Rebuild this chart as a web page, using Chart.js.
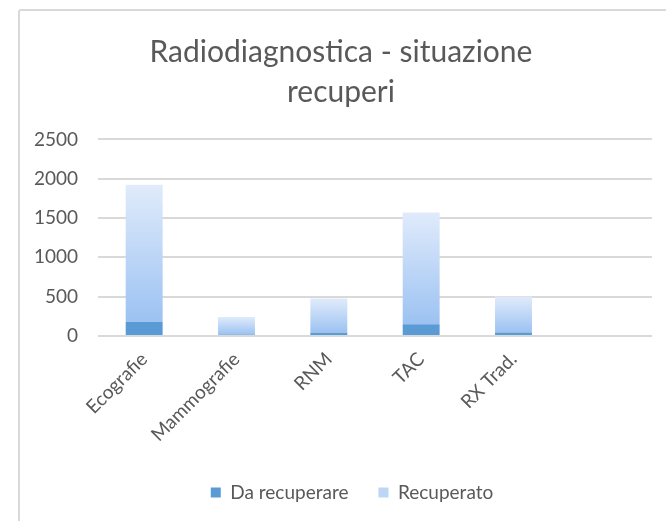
<!DOCTYPE html>
<html>
<head>
<meta charset="utf-8">
<script src="https://cdn.jsdelivr.net/npm/chart.js@4.4.1/dist/chart.umd.min.js"></script>
<style>
  html, body { margin: 0; padding: 0; background: #ffffff; }
  body { width: 666px; height: 521px; position: relative; overflow: hidden; }
  #frame { position: absolute; left: 18px; top: 9px; width: 720px; height: 600px;
           border: 2px solid #d9d9d9; border-radius: 3px; box-sizing: border-box; }
  #wrap { position: absolute; left: 0; top: 0; width: 666px; height: 521px; }
</style>
</head>
<body>
<div id="frame"></div>
<div id="wrap"><canvas id="c" width="666" height="521"></canvas></div>
<script>
const categories = ['Ecografie', 'Mammografie', 'RNM', 'TAC', 'RX Trad.', ''];
const daRecuperare = [180, 20, 42, 149, 45, null];
const recuperato = [1742, 222, 434, 1420, 456, null];
const yTicks = [0, 500, 1000, 1500, 2000, 2500];
const titleLines = ['Radiodiagnostica - situazione', 'recuperi'];

const FONT = 'Lato, "Open Sans", sans-serif';
const TEXT = '#595959';

function recGradient(ctx) {
  const chart = ctx.chart;
  const y = chart.scales && chart.scales.y;
  if (!y || ctx.type !== 'data') return '#bdd6f6';
  const i = ctx.dataIndex;
  if (recuperato[i] == null) return '#bdd6f6';
  const top = y.getPixelForValue((daRecuperare[i] || 0) + recuperato[i]);
  const bot = y.getPixelForValue(daRecuperare[i] || 0);
  if (!isFinite(top) || !isFinite(bot) || top === bot) return '#bdd6f6';
  const g = chart.ctx.createLinearGradient(0, top, 0, bot);
  g.addColorStop(0, '#e0ebfb');
  g.addColorStop(1, '#9cc2f2');
  return g;
}

// shift title and legend horizontally to match the reference centring
const shiftBlocks = {
  id: 'shiftBlocks',
  afterLayout(chart) {
    if (chart.titleBlock) { chart.titleBlock.left += 15; chart.titleBlock.right += 15; }
    if (chart.legend) { chart.legend.left += 26; chart.legend.right += 26; }
  }
};

new Chart(document.getElementById('c'), {
  type: 'bar',
  data: {
    labels: categories,
    datasets: [
      { label: 'Da recuperare', data: daRecuperare, backgroundColor: '#5b9bd5',
        barPercentage: 0.4, categoryPercentage: 1.0 },
      { label: 'Recuperato', data: recuperato, backgroundColor: recGradient,
        barPercentage: 0.4, categoryPercentage: 1.0 }
    ]
  },
  plugins: [shiftBlocks],
  options: {
    responsive: false,
    animation: false,
    layout: { padding: { top: 0, left: 0, right: 14, bottom: 9 } },
    plugins: {
      title: {
        display: true,
        text: titleLines,
        color: TEXT,
        font: { family: FONT, size: 30, weight: 'normal', lineHeight: 1.34 },
        padding: { top: 32, bottom: 27 }
      },
      legend: {
        position: 'bottom',
        labels: {
          color: TEXT,
          font: { family: FONT, size: 19 },
          boxWidth: 10, boxHeight: 10, padding: 30,
          generateLabels(chart) {
            const items = Chart.defaults.plugins.legend.labels.generateLabels(chart);
            items.forEach(it => {
              it.lineWidth = 0;
              it.strokeStyle = 'rgba(0,0,0,0)';
              it.fillStyle = it.datasetIndex === 1 ? '#bdd6f6' : '#5b9bd5';
            });
            return items;
          }
        }
      },
      tooltip: { enabled: false }
    },
    scales: {
      x: {
        stacked: true,
        grid: { display: false },
        border: { display: false },
        ticks: { color: TEXT, font: { family: FONT, size: 19 }, minRotation: 45, maxRotation: 45, autoSkip: false, padding: 4 },
        afterFit(scale) { scale.height = 117; }
      },
      y: {
        stacked: true,
        min: 0, max: 2500,
        afterBuildTicks(scale) { scale.ticks = yTicks.map(v => ({ value: v })); },
        grid: { color: '#d9d9d9', lineWidth: 2, drawTicks: false },
        border: { display: false },
        ticks: { color: TEXT, font: { family: FONT, size: 19 }, padding: 20,
                 callback: (v) => String(v) },
        afterFit(scale) { scale.width = 98; }
      }
    }
  }
});
</script>
</body>
</html>
